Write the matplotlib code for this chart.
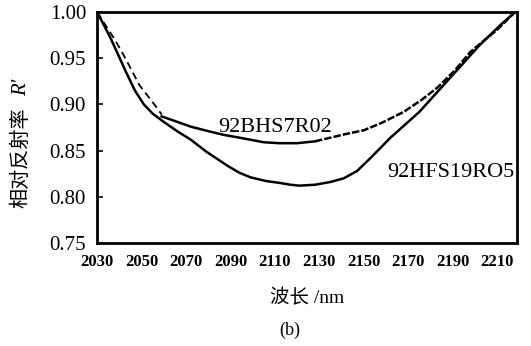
import matplotlib
matplotlib.use("Agg")
import matplotlib.pyplot as plt

plt.rcParams['font.family'] = ['Liberation Serif', 'Noto Sans CJK SC']

# 92HFS19RO5 (lower curve)
hfs_x = [2030, 2036, 2043, 2047, 2051, 2055, 2060, 2066, 2072, 2079, 2084, 2089, 2094, 2099,
         2106, 2112, 2117, 2121, 2128, 2135, 2141, 2147, 2153, 2162, 2175, 2190, 2202, 2211, 2218]
hfs_y = [1.000, 0.972, 0.935, 0.915, 0.900, 0.890, 0.881, 0.871, 0.862, 0.849, 0.841, 0.833,
         0.826, 0.821, 0.817, 0.815, 0.813, 0.812, 0.813, 0.816, 0.820, 0.828, 0.842, 0.864,
         0.892, 0.932, 0.964, 0.985, 1.000]

# 92BHS7R02 (upper curve), split by line style as drawn
bhs_x1 = [2030, 2038, 2042, 2049, 2057, 2059]
bhs_y1 = [1.000, 0.970, 0.953, 0.921, 0.896, 0.889]
bhs_x2 = [2059, 2065, 2072, 2080, 2087, 2094, 2105, 2112, 2120, 2128]
bhs_y2 = [0.887, 0.882, 0.876, 0.871, 0.867, 0.864, 0.859, 0.858, 0.858, 0.860]
bhs_x3 = [2128, 2135, 2142, 2150, 2158, 2168, 2176, 2183, 2191, 2198, 2205, 2210, 2218]
bhs_y3 = [0.860, 0.864, 0.868, 0.872, 0.880, 0.892, 0.905, 0.918, 0.937, 0.957, 0.971, 0.981, 1.000]

xticks = [2030, 2050, 2070, 2090, 2110, 2130, 2150, 2170, 2190, 2210]
yticks = [0.75, 0.80, 0.85, 0.90, 0.95, 1.00]

fig = plt.figure(figsize=(5.31, 3.46), dpi=100)
ax = fig.add_axes([0.183, 0.298, 0.791, 0.667])

ax.plot(hfs_x, hfs_y, color='black', lw=1.8)
ax.plot(bhs_x1, bhs_y1, color='black', lw=1.3, ls=(0, (4, 2.5)))
ax.plot(bhs_x2, bhs_y2, color='black', lw=1.8)
ax.plot(bhs_x3, bhs_y3, color='black', lw=1.8, ls=(0, (3, 0.8)))

ax.text(2110, 0.8645, '92BHS7R02', fontsize=16, ha='center', va='bottom')
ax.text(2218, 0.826, '92HFS19RO5', fontsize=16, ha='right', va='center')

ax.set_xlim(2030, 2219)
ax.set_ylim(0.75, 1.0)
ax.set_xticks(xticks)
ax.set_xticklabels([str(v) for v in xticks], fontsize=12, fontweight='bold')
ax.set_yticks(yticks)
ax.set_yticklabels(['%.2f' % v for v in yticks], fontsize=15)
ax.tick_params(axis='x', length=0, pad=8)
ax.tick_params(axis='y', direction='in', length=4, width=1.2, pad=8)
for sp in ax.spines.values():
    sp.set_linewidth(2)

# y label: Chinese part plus italic R'
fig.text(0.040, 0.543, '相对反射率', fontsize=14.5, rotation=90,
         ha='center', va='center', family=['Noto Sans CJK SC'])
fig.text(0.040, 0.748, "R'", fontsize=15, rotation=90, style='italic',
         ha='center', va='center')

ax.set_xlabel('波长 /nm', fontsize=14, labelpad=14)
fig.text(0.546, 0.045, '(b)', fontsize=13, ha='center', va='center')

plt.savefig('out.png', dpi=100)
